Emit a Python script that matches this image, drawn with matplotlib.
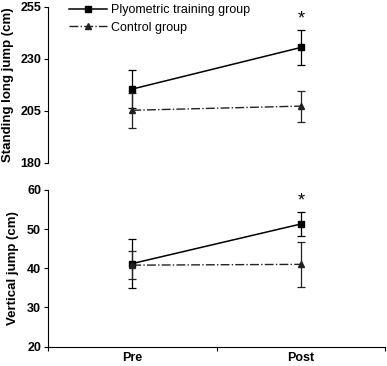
import matplotlib.pyplot as plt
from matplotlib.lines import Line2D

plt.rcParams['font.family'] = ['Liberation Sans', 'DejaVu Sans']

phases = ["Pre", "Post"]
x_pos = [0.5, 1.5]

slj_plyo = [215.5, 235.5]
slj_plyo_err = [9.0, 8.3]
slj_ctrl = [205.3, 207.3]
slj_ctrl_err = [8.5, 7.5]

vj_plyo = [41.2, 51.3]
vj_plyo_err = [6.3, 3.0]
vj_ctrl = [40.8, 41.0]
vj_ctrl_err = [3.5, 5.8]

fig = plt.figure(figsize=(3.87, 3.66), dpi=100)
ax1 = fig.add_axes([0.124, 0.555, 0.871, 0.426])
ax2 = fig.add_axes([0.124, 0.053, 0.871, 0.428])

def draw(ax, plyo, plyo_err, ctrl, ctrl_err):
    ax.errorbar(x_pos, plyo, yerr=plyo_err, color='black', lw=1.1, marker='s',
                ms=5, capsize=3, elinewidth=0.9, capthick=0.9)
    ax.errorbar(x_pos, ctrl, yerr=ctrl_err, color='#222222', lw=1.0, ls='-.',
                marker='^', ms=4, capsize=3, elinewidth=0.9, capthick=0.9)
    ax.set_xlim(0, 2)
    for s in ['top', 'right']:
        ax.spines[s].set_visible(False)
    ax.tick_params(axis='y', direction='out', length=3, labelsize=9, pad=2)

draw(ax1, slj_plyo, slj_plyo_err, slj_ctrl, slj_ctrl_err)
ax1.set_ylim(180, 255)
ax1.set_yticks([180, 205, 230, 255])
for t in ax1.get_yticklabels():
    t.set_fontweight('bold')
ax1.spines['bottom'].set_visible(False)
ax1.set_xticks([])
ax1.set_ylabel("Standing long jump (cm)", fontsize=9.5, fontweight='bold')
ax1.yaxis.set_label_coords(-0.1, 0.5)
ax1.text(x_pos[1], slj_plyo[1] + slj_plyo_err[1] + 1.5, "*", ha='center',
         va='bottom', fontsize=13)
handles = [Line2D([], [], color='black', lw=1.1, marker='s', ms=5),
           Line2D([], [], color='#222222', lw=1.0, ls='-.', marker='^', ms=4)]
ax1.legend(handles, ['Plyometric training group', 'Control group'],
           loc='upper left', bbox_to_anchor=(0.03, 1.09), frameon=False,
           fontsize=9, handlelength=3.0, handletextpad=0.3,
           labelspacing=0.45)

draw(ax2, vj_plyo, vj_plyo_err, vj_ctrl, vj_ctrl_err)
ax2.set_ylim(20, 60)
ax2.set_yticks([20, 30, 40, 50, 60])
for t in ax2.get_yticklabels():
    t.set_fontweight('bold')
ax2.set_xticks([0, 1, 2])
ax2.set_xticklabels([])
ax2.set_xticks(x_pos, minor=True)
ax2.set_xticklabels(phases, minor=True, fontsize=9, fontweight='bold')
ax2.tick_params(axis='x', which='major', direction='out', length=3)
ax2.tick_params(axis='x', which='minor', length=0, pad=4)
ax2.set_ylabel("Vertical jump (cm)", fontsize=9.5, fontweight='bold')
ax2.yaxis.set_label_coords(-0.085, 0.5)
ax2.text(x_pos[1], vj_plyo[1] + vj_plyo_err[1] + 0.8, "*", ha='center',
         va='bottom', fontsize=13)

fig.savefig("out.png", dpi=100)
